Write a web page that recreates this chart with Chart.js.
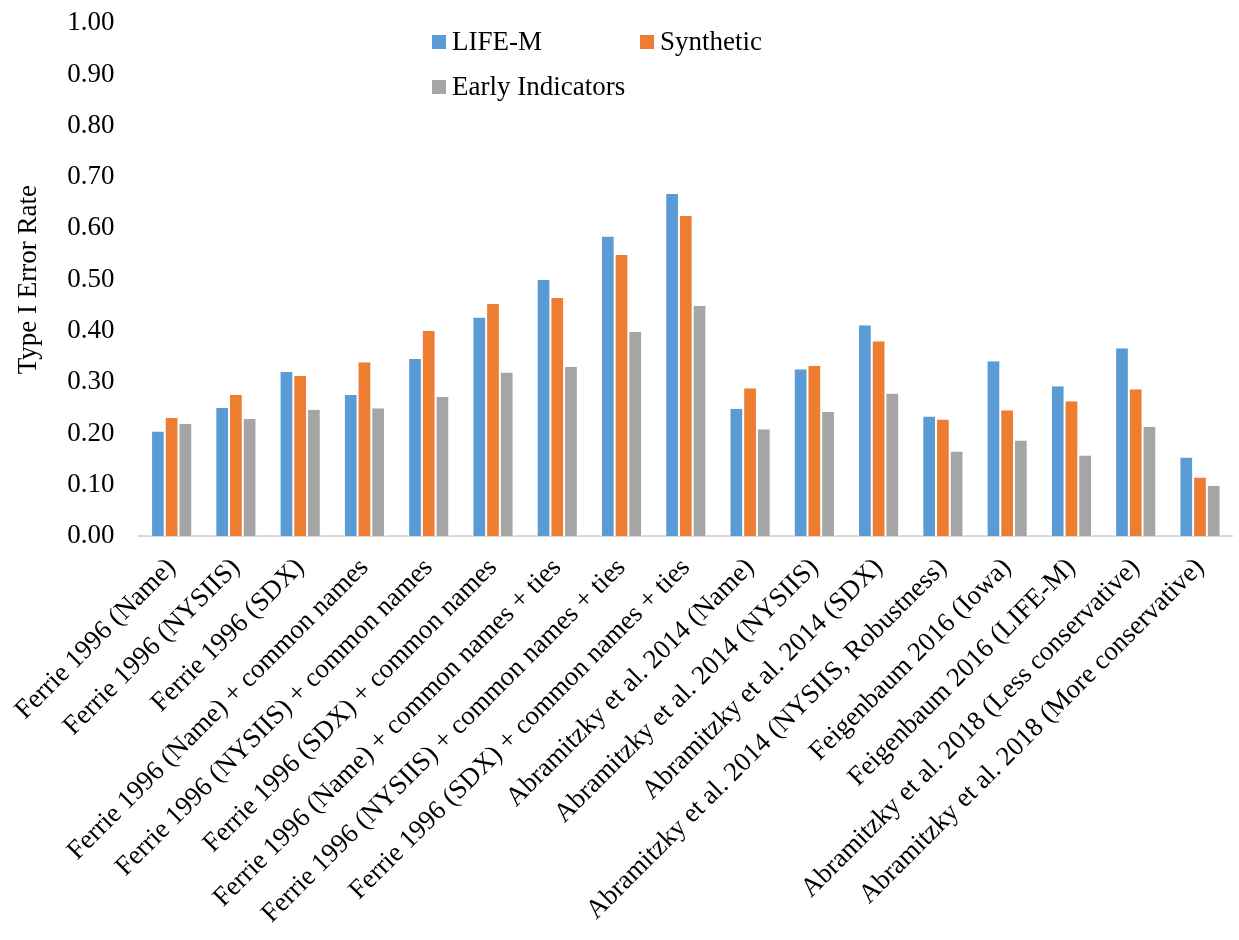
<!DOCTYPE html>
<html>
<head>
<meta charset="utf-8">
<script src="https://cdn.jsdelivr.net/npm/chart.js@4"></script>
<style>
  html, body { margin: 0; padding: 0; background: #fff; }
  #wrap { position: relative; width: 1239px; height: 940px; overflow: hidden; }
  #myChart { display: block; margin-top: -18px; }
  #legend { position: absolute; left: 432px; top: 26px; font-family: "Liberation Serif", "Times New Roman", serif; font-size: 27px; color: #000; }
  .item { position: absolute; white-space: nowrap; display: flex; align-items: center; }
  .box { width: 14px; height: 14px; margin-right: 6px; }
</style>
</head>
<body>
<div id="wrap">
  <canvas id="myChart" width="1239" height="958"></canvas>
  <div id="legend"></div>
</div>
<script>
const categories = [
  "Ferrie 1996 (Name)",
  "Ferrie 1996 (NYSIIS)",
  "Ferrie 1996 (SDX)",
  "Ferrie 1996 (Name) + common names",
  "Ferrie 1996 (NYSIIS) + common names",
  "Ferrie 1996 (SDX) + common names",
  "Ferrie 1996 (Name) + common names + ties",
  "Ferrie 1996 (NYSIIS) + common names + ties",
  "Ferrie 1996 (SDX) + common names + ties",
  "Abramitzky et al. 2014 (Name)",
  "Abramitzky et al. 2014 (NYSIIS)",
  "Abramitzky et al. 2014 (SDX)",
  "Abramitzky et al. 2014 (NYSIIS, Robustness)",
  "Feigenbaum 2016 (Iowa)",
  "Feigenbaum 2016 (LIFE-M)",
  "Abramitzky et al. 2018 (Less conservative)",
  "Abramitzky et al. 2018 (More conservative)"
];
const seriesNames = ["LIFE-M", "Synthetic", "Early Indicators"];
const lifeM = [0.204, 0.250, 0.320, 0.275, 0.345, 0.426, 0.499, 0.584, 0.667, 0.248, 0.325, 0.411, 0.233, 0.341, 0.292, 0.366, 0.153];
const synthetic = [0.230, 0.275, 0.312, 0.339, 0.400, 0.453, 0.464, 0.548, 0.624, 0.288, 0.332, 0.380, 0.227, 0.245, 0.263, 0.286, 0.114];
const earlyIndicators = [0.219, 0.228, 0.246, 0.249, 0.271, 0.319, 0.330, 0.398, 0.449, 0.208, 0.242, 0.278, 0.165, 0.186, 0.157, 0.213, 0.098];
const yTicks = [0, 0.1, 0.2, 0.3, 0.4, 0.5, 0.6, 0.7, 0.8, 0.9, 1.0];

const colors = ["#5b9bd5", "#ed7d31", "#a5a5a5"];
const font = "'Liberation Serif', 'Times New Roman', serif";

const ctx = document.getElementById("myChart").getContext("2d");
const myChart = new Chart(ctx, {
  type: "bar",
  data: {
    labels: categories,
    datasets: [lifeM, synthetic, earlyIndicators].map((d, i) => ({
      label: seriesNames[i],
      data: d,
      backgroundColor: colors[i],
      borderColor: "#ffffff",
      borderWidth: { left: 1, right: 1, top: 0, bottom: 0 },
      barPercentage: 1.0,
      categoryPercentage: 0.64
    }))
  },
  options: {
    responsive: false,
    animation: false,
    layout: { padding: { top: 0, right: 4, left: 0, bottom: 0 } },
    plugins: {
      legend: { display: false },
      tooltip: { enabled: false }
    },
    scales: {
      x: {
        grid: { display: false, drawTicks: false },
        border: { display: true, color: "#d9d9d9", width: 2 },
        ticks: {
          color: "#000",
          font: { family: font, size: 27 },
          maxRotation: 45,
          minRotation: 45,
          autoSkip: false,
          padding: 16
        },
        afterFit: (scale) => { scale.height = 404; }
      },
      y: {
        min: 0,
        max: 1,
        afterBuildTicks: (scale) => { scale.ticks = yTicks.map(v => ({ value: v })); },
        grid: { display: false, drawTicks: false },
        border: { display: false },
        ticks: {
          color: "#000",
          font: { family: font, size: 27 },
          padding: 25,
          callback: (v) => Number(v).toFixed(2)
        },
        title: {
          display: true,
          text: "Type I Error Rate",
          color: "#000",
          font: { family: font, size: 27 },
          padding: { top: 12, bottom: 2 }
        },
        afterFit: (scale) => { scale.width = 139; }
      }
    }
  }
});

// legend laid out in two columns like the original
const legend = document.getElementById("legend");
const pos = [[0, 0], [208, 0], [0, 45]];
seriesNames.forEach((name, i) => {
  const item = document.createElement("div");
  item.className = "item";
  item.style.left = pos[i][0] + "px";
  item.style.top = pos[i][1] + "px";
  item.innerHTML = '<span class="box" style="background:' + colors[i] + '"></span><span>' + name + '</span>';
  legend.appendChild(item);
});
</script>
</body>
</html>
